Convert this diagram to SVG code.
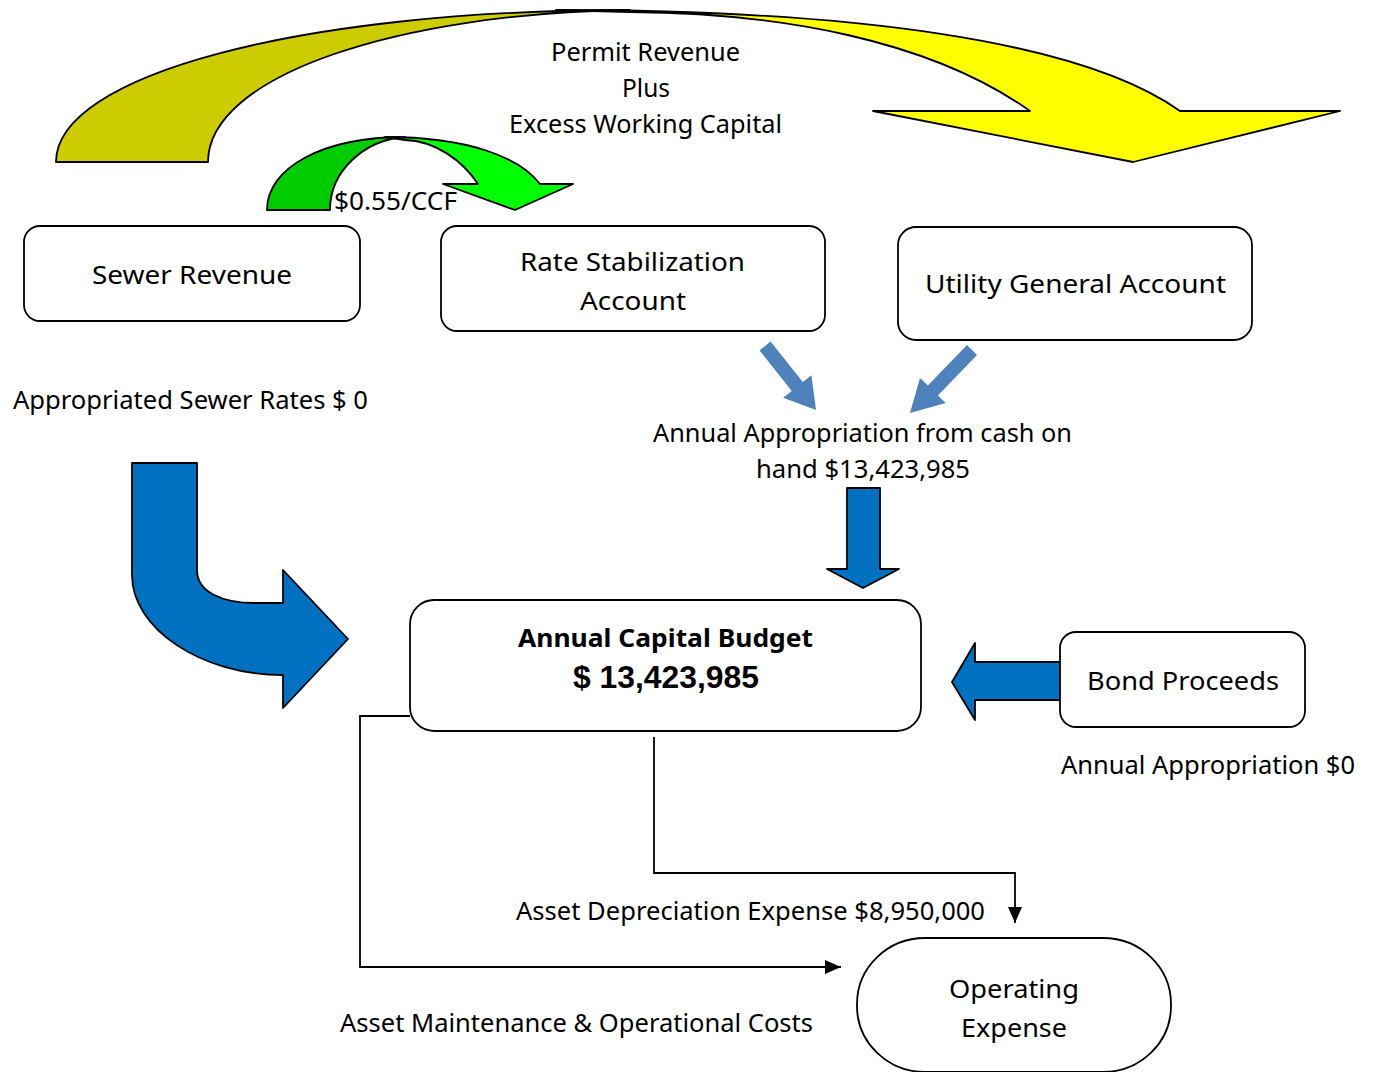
<svg xmlns="http://www.w3.org/2000/svg" width="1373" height="1072" viewBox="0 0 1373 1072">
<defs>
<style>
.box{fill:#fff;stroke:#000;stroke-width:1.8}
.t{font-family:"Noto Sans","Open Sans",sans-serif;font-size:25px;fill:#000}
.tb{font-family:"Noto Sans","Open Sans",sans-serif;font-size:25px;font-weight:bold;fill:#000}
.num{font-family:"Liberation Sans",Arial,sans-serif;font-size:32px;font-weight:bold;fill:#000}
.blk{stroke:#000;stroke-width:1.8;stroke-linejoin:round}
.conn{fill:none;stroke:#000;stroke-width:1.8}
.lb{fill:#4F81BD}
</style>
<marker id="ah2" viewBox="0 0 16 14" refX="16" refY="7" markerWidth="16" markerHeight="14" markerUnits="userSpaceOnUse" orient="auto">
<path d="M0,0 L16,7 L0,14 Z" fill="#000"/>
</marker>
</defs>
<rect width="1373" height="1072" fill="#fff"/>

<g id="arrow-permit">
<path class="blk" fill="#CCCC00" d="M56,162 C56,75 300,10 630,10 C400,13 208,75 208,162 Z"/>
<path class="blk" fill="#FFFF00" d="M556,10 C850,10 1080,40 1180,111 L1340,111 L1133,162 L873,111 L1030,111 C930,40 780,13 630,12 Z"/>
</g>

<g id="arrow-green">
<path class="blk" fill="#00CC00" d="M267,210 C267,168 322,137 405,137 C364,140 330,171 330,210 Z"/>
<path class="blk" fill="#00FF00" d="M385,137 C470,137 520,158 540,184 L573,184 L515,210 L443,184 L478,184 C462,160 435,141 405,140 Z"/>
</g>

<g id="arrow-sewer">
<path class="blk" fill="#0070C0" d="M132,463 L197,463 L197,570 C197,592 222,603 255,603 L283,603 L283,570 L348,639 L283,708 L283,675 C200,675 132,628 132,575 Z"/>
</g>

<g id="arrow-rsa" class="lb">
<path d="M770.5,341.6 L759.5,350.4 L791.8,390.9 L783.2,397.7 L816,410 L811.4,375.3 L802.8,382.1 Z"/>
</g>
<g id="arrow-uga" class="lb">
<path d="M977,354.9 L967,345.1 L927.9,385.6 L920,378 L910,413 L945.8,403 L937.9,395.4 Z"/>
</g>

<g id="arrow-down">
<path class="blk" fill="#0070C0" d="M847,488 L880,488 L880,569 L899,569 L863,588 L827,569 L847,569 Z"/>
</g>

<g id="arrow-bond">
<path class="blk" fill="#0070C0" d="M1060,662 L975,662 L975,643 L952,682 L975,720 L975,700 L1060,700 Z"/>
</g>

<g id="connectors">
<path class="conn" d="M654,737 L654,873 L1015,873 L1015,923" marker-end="url(#ah2)"/>
<path class="conn" d="M410,716 L360,716 L360,967 L841,967" marker-end="url(#ah2)"/>
</g>

<g id="node-sewer">
<rect class="box" x="24" y="226" width="336" height="95" rx="16"/>
<text class="t" x="192" y="284" text-anchor="middle" textLength="200" lengthAdjust="spacingAndGlyphs">Sewer Revenue</text>
</g>
<g id="node-rsa">
<rect class="box" x="441" y="226" width="384" height="105" rx="16"/>
<text class="t" x="632.5" y="271" text-anchor="middle" textLength="225" lengthAdjust="spacingAndGlyphs">Rate Stabilization</text>
<text class="t" x="633" y="310" text-anchor="middle" textLength="106" lengthAdjust="spacingAndGlyphs">Account</text>
</g>
<g id="node-uga">
<rect class="box" x="898" y="227" width="354" height="113" rx="18"/>
<text class="t" x="1075.5" y="293" text-anchor="middle" textLength="301" lengthAdjust="spacingAndGlyphs">Utility General Account</text>
</g>
<g id="node-budget">
<rect class="box" x="410" y="600" width="511" height="131" rx="24"/>
<text class="tb" x="665.5" y="647" text-anchor="middle" textLength="295" lengthAdjust="spacingAndGlyphs">Annual Capital Budget</text>
<text class="num" x="666" y="688" text-anchor="middle" textLength="186" lengthAdjust="spacingAndGlyphs">$ 13,423,985</text>
</g>
<g id="node-bond">
<rect class="box" x="1060" y="632" width="245" height="95" rx="16"/>
<text class="t" x="1183" y="690" text-anchor="middle" textLength="192" lengthAdjust="spacingAndGlyphs">Bond Proceeds</text>
</g>
<g id="node-opex">
<rect class="box" x="857" y="938" width="314" height="134" rx="68" ry="66"/>
<text class="t" x="1014" y="998" text-anchor="middle" textLength="130" lengthAdjust="spacingAndGlyphs">Operating</text>
<text class="t" x="1014" y="1037" text-anchor="middle" textLength="106" lengthAdjust="spacingAndGlyphs">Expense</text>
</g>

<g id="labels">
<text class="t" x="645.5" y="61" text-anchor="middle" textLength="189" lengthAdjust="spacingAndGlyphs">Permit Revenue</text>
<text class="t" x="646" y="97" text-anchor="middle" textLength="48" lengthAdjust="spacingAndGlyphs">Plus</text>
<text class="t" x="645.5" y="133" text-anchor="middle" textLength="273" lengthAdjust="spacingAndGlyphs">Excess Working Capital</text>
<text class="t" x="334" y="210" textLength="123" lengthAdjust="spacingAndGlyphs">$0.55/CCF</text>
<text class="t" x="13" y="409" textLength="355" lengthAdjust="spacingAndGlyphs">Appropriated Sewer Rates $ 0</text>
<text class="t" x="862.5" y="442" text-anchor="middle" textLength="419" lengthAdjust="spacingAndGlyphs">Annual Appropriation from cash on</text>
<text class="t" x="863" y="478" text-anchor="middle" textLength="214" lengthAdjust="spacingAndGlyphs">hand $13,423,985</text>
<text class="t" x="1061" y="774" textLength="294" lengthAdjust="spacingAndGlyphs">Annual Appropriation $0</text>
<text class="t" x="516" y="920" textLength="469" lengthAdjust="spacingAndGlyphs">Asset Depreciation Expense $8,950,000</text>
<text class="t" x="340" y="1032" textLength="473" lengthAdjust="spacingAndGlyphs">Asset Maintenance &amp; Operational Costs</text>
</g>
</svg>
